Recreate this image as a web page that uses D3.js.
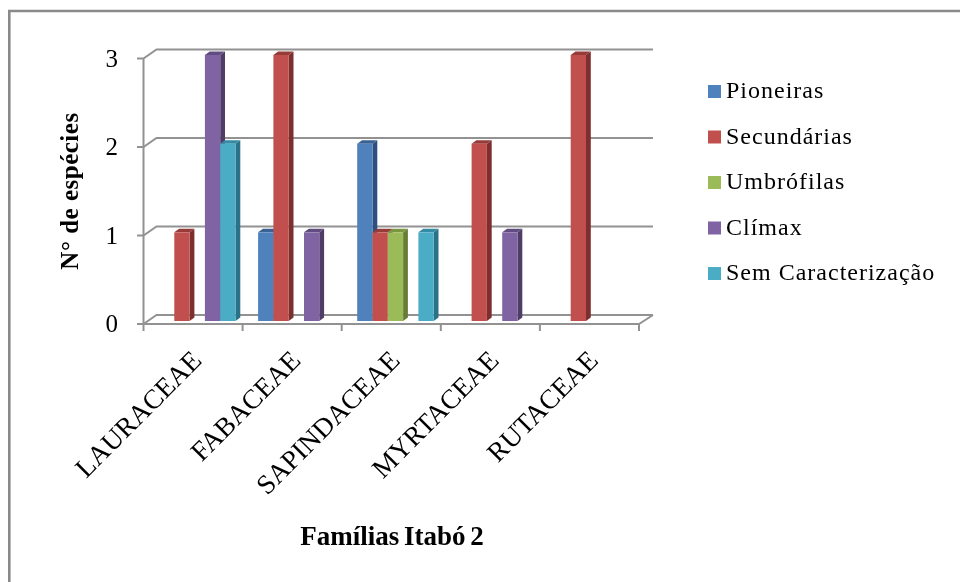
<!DOCTYPE html>
<html><head><meta charset="utf-8">
<script src="https://cdn.jsdelivr.net/npm/d3@7"></script>
<style>html,body{margin:0;padding:0;background:#fff}svg{display:block}text{font-family:"Liberation Serif",serif;fill:#000}</style>
</head><body><svg id="c" width="960" height="582"></svg>
<script>
const categories = ["LAURACEAE","FABACEAE","SAPINDACEAE","MYRTACEAE","RUTACEAE"];
const seriesNames = ["Pioneiras","Secundárias","Umbrófilas","Clímax","Sem Caracterização"];
const pioneiras = [0,1,2,0,0];
const secundarias = [1,3,1,2,3];
const umbrofilas = [0,0,1,0,0];
const climax = [3,1,0,1,0];
const semCaracterizacao = [2,0,1,0,0];
const seriesValues = [pioneiras,secundarias,umbrofilas,climax,semCaracterizacao];
const seriesColors = ["#4f81bd","#c0504d","#9bbb59","#8064a2","#4bacc6"];
const sideColors = ["#2f5080","#7d2f2d","#667d36","#4f3d68","#2b7287"];
const topColors = ["#3a6294","#963a38","#7a9642","#624c80","#368ba3"];
const yTicks = [0,1,2,3];

const root = d3.select("#c");
root.append("defs").append("filter").attr("id","soft")
  .attr("filterUnits","userSpaceOnUse").attr("x",0).attr("y",0).attr("width",960).attr("height",582)
  .append("feGaussianBlur").attr("stdDeviation",0.45);
const svg = root.append("g").attr("filter","url(#soft)");
svg.append("path").attr("d","M9.3,582V11H960").attr("fill","none")
  .attr("stroke","#8a8a8a").attr("stroke-width",2.6);

const dx = 13, dy = 9, gray = "#929292";
const x = d3.scaleBand().domain(categories).range([143.5,639]);
const y = d3.scaleLinear().domain([0,3]).range([324,58.5]);
const s = d3.scaleBand().domain(d3.range(5)).range([15.5,92]);
const barY = d3.scaleLinear().domain([0,3]).range([321,55]);
const depthX = 4.8, depthY = 3.5;

const grid = svg.append("g").attr("fill","none").attr("stroke",gray).attr("stroke-width",2);
yTicks.forEach(t=>{
  grid.append("path").attr("d",`M137,${y(t)}H143.5L${143.5+dx},${y(t)-dy}H${639+dx+1}`);
});
grid.append("path").attr("d",`M143.5,${y(3)}V${y(0)}`);
grid.append("path").attr("d",`M143.5,${y(0)}H639L${639+dx+1},${y(0)-dy}`);
[...categories.map(c=>x(c)),639].forEach(v=>{
  grid.append("path").attr("d",`M${v},${y(0)}V${y(0)+7}`);
});

const bars = svg.append("g");
categories.forEach((c,i)=>{
  seriesValues.forEach((vals,k)=>{
    const v = vals[i];
    if(!v) return;
    const x0 = x(c)+s(k), w = s.bandwidth(), yt = barY(v), yb = barY(0);
    bars.append("path").attr("fill",sideColors[k])
      .attr("d",`M${x0+w},${yt}l${depthX},${-depthY}V${yb-depthY}l${-depthX},${depthY}Z`);
    bars.append("path").attr("fill",topColors[k])
      .attr("d",`M${x0},${yt}l${depthX},${-depthY}h${w}l${-depthX},${depthY}Z`);
    bars.append("rect").attr("x",x0).attr("y",yt).attr("width",w).attr("height",yb-yt).attr("fill",seriesColors[k]);
  });
});

svg.append("g").selectAll("text").data(yTicks).join("text")
  .attr("x",118).attr("y",d=>y(d)+8).attr("text-anchor","end")
  .attr("font-size",25).text(d=>d);

svg.append("g").selectAll("text").data(categories).join("text")
  .attr("text-anchor","end").attr("font-size",27.3)
  .attr("transform",c=>`translate(${x(c)+x.bandwidth()/2+10},${362}) rotate(-45)`)
  .text(c=>c);

svg.append("text").attr("transform","translate(78,191) rotate(-90)")
  .attr("text-anchor","middle").attr("font-size",25).attr("font-weight","bold").attr("letter-spacing",0.5).text("N° de espécies");
svg.append("text").attr("x",392).attr("y",545)
  .attr("text-anchor","middle").attr("font-size",27).attr("font-weight","bold").attr("word-spacing",-2).text("Famílias Itabó 2");

const legendY = d3.scalePoint().domain(seriesNames).range([91,273]);
const lg = svg.append("g");
seriesNames.forEach((n,k)=>{
  lg.append("rect").attr("x",708).attr("y",legendY(n)-6).attr("width",13).attr("height",13).attr("fill",seriesColors[k]);
  lg.append("text").attr("x",726).attr("y",legendY(n)+7).attr("font-size",24).attr("letter-spacing",1.0).text(n);
});
</script></body></html>
